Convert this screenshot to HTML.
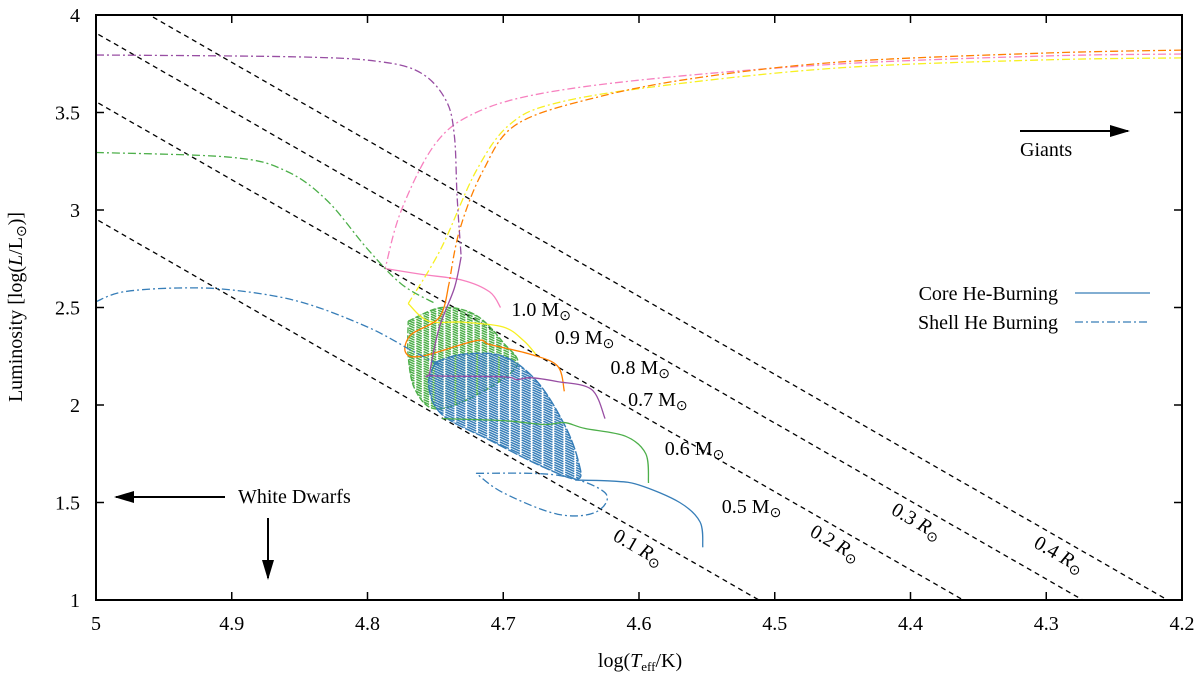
<!DOCTYPE html>
<html><head><meta charset="utf-8"><style>
html,body{margin:0;background:#fff;overflow:hidden;width:1200px;height:679px}
svg{display:block;font-family:"Liberation Serif",serif}
</style></head><body>
<svg id="c" width="1200" height="679"></svg>
<script>
const xTicks=[5,4.9,4.8,4.7,4.6,4.5,4.4,4.3,4.2];
const yTicks=[1,1.5,2,2.5,3,3.5,4];
const radii=[0.1,0.2,0.3,0.4];
const radiusLabels=["0.1","0.2","0.3","0.4"];
const radiusLabelT=[4.62,4.475,4.415,4.31];
const massLabels=["1.0","0.9","0.8","0.7","0.6","0.5"];
const massLabelPos=[[4.694,2.456],[4.662,2.313],[4.621,2.159],[4.608,1.995],[4.581,1.744],[4.539,1.446]];
// tracks: [logT, logL]
const purpleShell=[[5,3.795],[4.85,3.785],[4.79,3.76],[4.76,3.7],[4.742,3.56],[4.736,3.38],[4.734,3.07],[4.731,2.76]];
const purpleCore=[[4.731,2.76],[4.736,2.6],[4.747,2.4],[4.754,2.17],[4.752,2.15],[4.70,2.145],[4.69,2.13],[4.68,2.14],[4.66,2.12],[4.635,2.08],[4.625,1.93]];
const orangeShell=[[4.2,3.82],[4.3,3.805],[4.45,3.76],[4.555,3.68],[4.63,3.58],[4.69,3.44],[4.715,3.2],[4.732,2.9],[4.74,2.62]];
const orangeCore=[[4.74,2.62],[4.747,2.45],[4.768,2.36],[4.772,2.27],[4.76,2.25],[4.72,2.33],[4.71,2.31],[4.68,2.26],[4.66,2.2],[4.655,2.07]];
const yellowShell=[[4.2,3.78],[4.3,3.77],[4.45,3.73],[4.58,3.64],[4.66,3.55],[4.695,3.44],[4.72,3.2],[4.746,2.8],[4.77,2.52]];
const yellowCore=[[4.77,2.52],[4.755,2.43],[4.73,2.425],[4.70,2.4],[4.685,2.33],[4.676,2.26]];
const pinkShell=[[4.2,3.8],[4.3,3.79],[4.45,3.75],[4.58,3.68],[4.67,3.6],[4.72,3.5],[4.75,3.34],[4.775,3.0],[4.787,2.7]];
const pinkCore=[[4.787,2.7],[4.76,2.67],[4.73,2.64],[4.71,2.58],[4.702,2.5]];
const greenShell=[[5,3.295],[4.9,3.27],[4.86,3.2],[4.83,3.05],[4.80,2.8],[4.775,2.62],[4.75,2.52]];
const greenCore=[[4.745,1.93],[4.70,1.92],[4.67,1.9],[4.655,1.91],[4.64,1.88],[4.61,1.84],[4.595,1.75],[4.593,1.6]];
const blueShell=[[5,2.53],[4.98,2.58],[4.94,2.6],[4.9,2.59],[4.85,2.53],[4.80,2.4],[4.765,2.27],[4.745,2.2]];
const blueCore=[[4.647,1.615],[4.62,1.61],[4.60,1.59],[4.57,1.5],[4.555,1.4],[4.553,1.27]];
const greenBlob=[[4.77,2.43],[4.745,2.5],[4.72,2.46],[4.70,2.32],[4.69,2.2],[4.72,2.05],[4.75,1.98],[4.765,2.08],[4.77,2.25]];
const blueBlob=[[4.75,2.22],[4.73,2.26],[4.70,2.25],[4.675,2.12],[4.655,1.9],[4.645,1.72],[4.645,1.62],[4.67,1.68],[4.71,1.82],[4.745,1.95],[4.755,2.1]];
const blueLoop=[[4.72,1.65],[4.66,1.64],[4.625,1.55],[4.632,1.45],[4.66,1.44],[4.70,1.55],[4.72,1.65]];

const L=96,R=1182,T=15,B=600;
const sx=v=>L+(5-v)/(5-4.2)*(R-L);
const sy=v=>B-(v-1)/3*(B-T);
const NS="http://www.w3.org/2000/svg";
const svg=document.getElementById('c');
function mk(tag,attrs,parent){const e=document.createElementNS(NS,tag);for(const k in attrs)e.setAttribute(k,attrs[k]);(parent||svg).appendChild(e);return e;}
const defs=mk('defs',{});
const cp=mk('clipPath',{id:'plot'},defs);mk('rect',{x:L,y:T,width:R-L,height:B-T},cp);
const g=mk('g',{'clip-path':'url(#plot)'});
radii.forEach((r,i)=>{
  const f=t=>2*Math.log10(r)+4*(t-3.7617);
  const ln=mk('line',{x1:sx(5.05),y1:sy(f(5.05)),x2:sx(4.15),y2:sy(f(4.15)),stroke:'#000','stroke-width':1.3,'stroke-dasharray':'5,4'},g);
  
  
  const t=radiusLabelT[i];
  const tx=mk('text',{x:sx(t),y:sy(f(t))+24,'font-size':20,transform:`rotate(29.9 ${sx(t)} ${sy(f(t))+24})`},svg);
  tx.innerHTML=radiusLabels[i]+' <tspan font-style="italic">R</tspan><tspan font-size="14" dy="4">⊙</tspan>';
  
  
});
function smooth(a){
  const P=a.map(p=>[sx(p[0]),sy(p[1])]);
  let d='M'+P[0][0]+','+P[0][1];
  for(let i=0;i<P.length-1;i++){
    const p0=P[Math.max(0,i-1)],p1=P[i],p2=P[i+1],p3=P[Math.min(P.length-1,i+2)];
    const c1=[p1[0]+(p2[0]-p0[0])/6,p1[1]+(p2[1]-p0[1])/6];
    const c2=[p2[0]-(p3[0]-p1[0])/6,p2[1]-(p3[1]-p1[1])/6];
    d+=` C${c1[0]},${c1[1]} ${c2[0]},${c2[1]} ${p2[0]},${p2[1]}`;
  }
  return d;
}
function line(a,col,dash,name){
  const e=mk('path',{d:smooth(a),fill:'none',stroke:col,'stroke-width':1.3,'stroke-dasharray':dash||'none','stroke-linejoin':'round'},g);
  
  
}
const DD='8,3,2,3';
function blob(a,col,name,dash){
  const id='clip-'+name;
  const c=mk('clipPath',{id},defs);mk('path',{d:smooth(a.concat([a[0]]))},c);
  const gg=mk('g',{'clip-path':`url(#${id})`},g);
  
  
  for(let k=0;k<90;k++){
    const y=T+k*2.4+200;
    mk('line',{x1:380,y1:y-30,x2:640,y2:y+90,stroke:col,'stroke-width':1.5,'stroke-dasharray':dash},gg);
  }
  mk('path',{d:smooth(a.concat([a[0]])),fill:'none',stroke:col,'stroke-width':1.4,'stroke-dasharray':dash},g);
}
const BLUE='#377eb8',GREEN='#4daf4a',PURPLE='#984ea3',ORANGE='#ff7f00',YELLOW='#f7f022',PINK='#f781bf';
blob(greenBlob,GREEN,'green-loops','6,2');
blob(blueBlob,BLUE,'blue-loops','10,2');
line(blueLoop,BLUE,DD,'blue-shell-loop');
line(pinkShell,PINK,DD,'track-1.0-shell');line(pinkCore,PINK,'','track-1.0-core');
line(yellowShell,YELLOW,DD,'track-0.9-shell');line(yellowCore,YELLOW,'','track-0.9-core');
line(orangeShell,ORANGE,DD,'track-0.8-shell');line(orangeCore,ORANGE,'','track-0.8-core');
line(purpleShell,PURPLE,DD,'track-0.7-shell');line(purpleCore,PURPLE,'','track-0.7-core');
line(greenShell,GREEN,DD,'track-0.6-shell');line(greenCore,GREEN,'','track-0.6-core');
line(blueShell,BLUE,DD,'track-0.5-shell');line(blueCore,BLUE,'','track-0.5-core');
massLabels.forEach((m,i)=>{
  const p=massLabelPos[i];
  const t=mk('text',{x:sx(p[0]),y:sy(p[1]),'font-size':20});
  t.innerHTML=m+' M<tspan font-size="14" dy="4">⊙</tspan>';
  
  
});
const fr=mk('rect',{x:L,y:T,width:R-L,height:B-T,fill:'none',stroke:'#000','stroke-width':2});

xTicks.forEach(v=>{
  mk('line',{x1:sx(v),y1:B,x2:sx(v),y2:B-8,stroke:'#000','stroke-width':1.5});
  mk('line',{x1:sx(v),y1:T,x2:sx(v),y2:T+8,stroke:'#000','stroke-width':1.5});
  const t=mk('text',{x:sx(v),y:B+30,'font-size':20,'text-anchor':'middle'});t.textContent=String(v);
  
});
yTicks.forEach(v=>{
  mk('line',{x1:L,y1:sy(v),x2:L+8,y2:sy(v),stroke:'#000','stroke-width':1.5});
  mk('line',{x1:R,y1:sy(v),x2:R-8,y2:sy(v),stroke:'#000','stroke-width':1.5});
  const t=mk('text',{x:L-16,y:sy(v)+7,'font-size':20,'text-anchor':'end'});t.textContent=String(v);
  
});
svg.insertAdjacentHTML('beforeend',`
<defs><marker id="ah" markerWidth="20" markerHeight="12" refX="18" refY="6" orient="auto" markerUnits="userSpaceOnUse"><path d="M0,0 L20,6 L0,12 z" fill="#000"/></marker></defs>
<text x="640" y="667" font-size="20" text-anchor="middle">log(<tspan font-style="italic">T</tspan><tspan font-size="13" dy="4">eff</tspan><tspan dy="-4">/K)</tspan></text>
<text transform="translate(22,307) rotate(-90)" font-size="20" text-anchor="middle">Luminosity [log(<tspan font-style="italic">L</tspan>/L<tspan font-size="14" dy="4">⊙</tspan><tspan dy="-4">)]</tspan></text>
<g>
<text x="1058" y="300" font-size="20" text-anchor="end">Core He-Burning</text>
<line x1="1075" y1="293" x2="1150" y2="293" stroke="#377eb8" stroke-width="1.3"/>
<text x="1058" y="329" font-size="20" text-anchor="end">Shell He Burning</text>
<line x1="1075" y1="322" x2="1150" y2="322" stroke="#377eb8" stroke-width="1.3" stroke-dasharray="8,3,2,3"/>
</g>
<g>
<line x1="1020" y1="131" x2="1128" y2="131" stroke="#000" stroke-width="2" marker-end="url(#ah)"/>
<text x="1020" y="156" font-size="20">Giants</text></g>
<g>
<line x1="225" y1="497" x2="116" y2="497" stroke="#000" stroke-width="2" marker-end="url(#ah)"/>
<text x="238" y="503" font-size="20">White Dwarfs</text>
<line x1="268" y1="518" x2="268" y2="578" stroke="#000" stroke-width="2" marker-end="url(#ah)"/></g>
`);
</script>
</body></html>
